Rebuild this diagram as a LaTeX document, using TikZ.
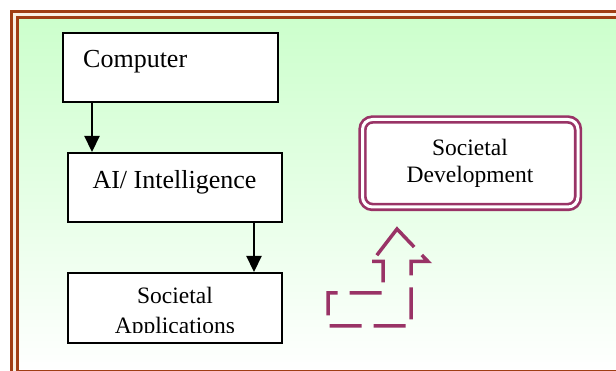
\documentclass[tikz,border=0pt]{standalone}
\usepackage{fontspec}
\setmainfont{Liberation Serif}
\usetikzlibrary{arrows.meta}
\definecolor{framebrown}{RGB}{160,62,20}
\definecolor{paleband}{RGB}{250,240,226}
\definecolor{mint}{RGB}{204,255,204}
\definecolor{plum}{RGB}{153,51,102}
\tikzset{
  box/.style={draw=black, line width=2pt, fill=white, inner sep=0pt},
  boxtext/.style={inner sep=0pt, anchor=base, font=\fontsize{23.5}{29}\selectfont},
  bigtext/.style={inner sep=0pt, anchor=base, font=\fontsize{26}{30}\selectfont},
  flow/.style={line width=2.2pt, -{Triangle[width=15pt,length=16pt]}},
  framerule/.style={draw=framebrown, line width=3pt},
  goalbox/.style={draw=plum, double=white, double distance=3pt, line width=2.7pt,
    fill=white, rounded corners=10pt, inner sep=0pt},
  bentarrow/.style={draw=plum, line width=3.5pt, line cap=butt, line join=miter,
    dash pattern=on 32pt off 12pt on 32pt off 12pt on 32pt off 12pt on 32pt off 12pt
      on 32pt off 12pt on 32pt off 12pt on 40pt off 11pt on 58pt off 10pt}
}
\begin{document}
\begin{tikzpicture}[x=1pt,y=-1pt]
\useasboundingbox (0,0) rectangle (616,371);
\clip (0,0) rectangle (616,371);
\fill[white] (0,0) rectangle (616,371);

% double page frame with a green-to-white wash
\filldraw[framerule, fill=paleband] (11.5,11.5) rectangle (640,400);
\shade[top color=mint, bottom color=white] (17.5,17.5) rectangle (640,371.5);
\draw[framerule] (17.5,17.5) rectangle (640,371.5);

% left column of process boxes
\node[box, minimum width=215pt, minimum height=69pt] (comp) at (170.5,67.5) {};
\node[bigtext, anchor=base west] (compt) at (83,68) {Computer};

\node[box, minimum width=214pt, minimum height=69pt] (ai) at (175,187.5) {};
\node[bigtext] (ait) at (174.5,189) {AI/ Intelligence};

\node[box, minimum width=214pt, minimum height=70pt] (app) at (175,308) {};
\begin{scope}
  \clip (68,273) rectangle (282,333);
  \node[boxtext] (appt1) at (175,304) {Societal};
  \node[boxtext] (appt2) at (175,333.5) {Applications};
\end{scope}

% connectors
\coordinate (a1) at ([xshift=30pt]comp.south west);
\draw[flow] (a1) -- (a1 |- ai.north);
\coordinate (a2) at ([xshift=187pt]ai.south west);
\draw[flow] (a2) -- (a2 |- app.north);

% goal box
\node[goalbox, minimum width=215.5pt, minimum height=87.5pt] (dev) at (470.25,163.25) {};
\node[boxtext] (devt1) at (470,156) {Societal};
\node[boxtext] (devt2) at (470,183) {Development};

% dashed bent-up block arrow
\draw[bentarrow] (372,261.5) -- (383,261.5) -- (383,293) -- (328,293) -- (328,326)
  -- (411,326) -- (411,261.5) -- (428,261.5) -- (397,229) -- (372,261.5);
\end{tikzpicture}
\end{document}
